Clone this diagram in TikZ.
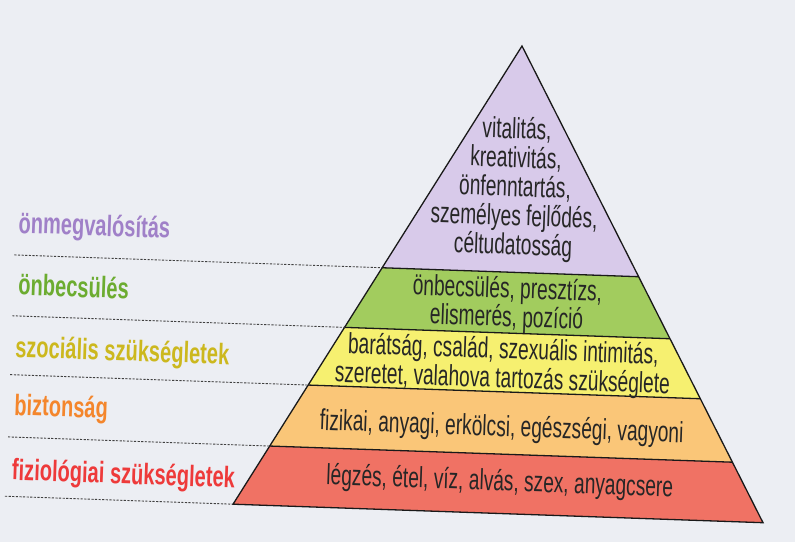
\documentclass[tikz,border=0pt]{standalone}
\usepackage{fontspec}
\setmainfont{Liberation Sans}[FakeStretch=0.66]
\newfontfamily\labfont{Liberation Sans}[FakeStretch=0.68]
\definecolor{bg}{RGB}{236,238,243}
\definecolor{fpurple}{RGB}{216,202,234}
\definecolor{fgreen}{RGB}{162,204,94}
\definecolor{fyellow}{RGB}{246,240,112}
\definecolor{forange}{RGB}{250,198,120}
\definecolor{fred}{RGB}{240,114,100}
\definecolor{lpurple}{RGB}{160,128,200}
\definecolor{lgreen}{RGB}{108,172,48}
\definecolor{lyellow}{RGB}{204,184,30}
\definecolor{lorange}{RGB}{244,134,44}
\definecolor{lred}{RGB}{238,58,58}
\begin{document}
\begin{tikzpicture}[x=1pt,y=1pt,
  lab/.style={font=\labfont\fontsize{29.5}{29.5}\selectfont\bfseries, inner sep=0pt, anchor=base west},
  inner/.style={font=\fontsize{29}{#1}\selectfont, align=center, inner sep=0pt, text=black!85},
  inner/.default=29,
  dashline/.style={draw=black!75, line width=0.9pt, dash pattern=on 2.2pt off 1.4pt},
  edge/.style={draw=black!90, line width=1.3pt, line join=miter}]
\useasboundingbox[fill=bg] (0,0) rectangle (795,542);
\begin{scope}[shift={(522,496)}, rotate=-2, transform shape]
  \coordinate (apex) at (0,0);
  \coordinate (l1) at (-132.0,-226.5); \coordinate (r1) at (124.6,-226.5);
  \coordinate (l2) at (-167.5,-287.4); \coordinate (r2) at (158.1,-287.4);
  \coordinate (l3) at (-201.9,-346.3); \coordinate (r3) at (190.6,-346.3);
  \coordinate (l4) at (-238.2,-408.6); \coordinate (r4) at (224.8,-408.6);
  \coordinate (l5) at (-272.8,-468.0); \coordinate (r5) at (257.5,-468.0);
  \fill[fpurple] (apex) -- (l1) -- (r1) -- cycle;
  \fill[fgreen] (l1) -- (l2) -- (r2) -- (r1) -- cycle;
  \fill[fyellow] (l2) -- (l3) -- (r3) -- (r2) -- cycle;
  \fill[forange] (l3) -- (l4) -- (r4) -- (r3) -- cycle;
  \fill[fred] (l4) -- (l5) -- (r5) -- (r4) -- cycle;
  \draw[edge] (l1) -- (r1);
  \draw[edge] (l2) -- (r2);
  \draw[edge] (l3) -- (r3);
  \draw[edge] (l4) -- (r4);
  \draw[edge] (apex) -- (l5) -- (r5) -- cycle;
  % dashed leaders
  \coordinate (d1) at (-500,-226.5);
  \coordinate (d2) at (-500,-287.4);
  \coordinate (d3) at (-500,-346.3);
  \coordinate (d4) at (-500,-408.6);
  \coordinate (d5) at (-501,-468.0);
  \draw[dashline] (d1) -- (l1);
  \draw[dashline] (d2) -- (l2);
  \draw[dashline] (d3) -- (l3);
  \draw[dashline] (d4) -- (l4);
  \draw[dashline] (d5) -- (l5);
  % level labels
  \node[lab, text=lpurple] (n1) at (-497,-204.5) {önmegvalósítás};
  \node[lab, text=lgreen] (n2) at (-495,-266.4) {önbecsülés};
  \node[lab, text=lyellow] (n3) at (-496,-328.5) {szociális szükségletek};
  \node[lab, text=lorange] (n4) at (-495,-386.5) {biztonság};
  \node[lab, text=lred] (n5) at (-495,-451.5) {fiziológiai szükségletek};
  % contents
  \node[inner=29] (c1) at (-2,-143) {vitalitás,\\kreativitás,\\önfenntartás,\\személyes fejlődés,\\céltudatosság};
  \node[inner=25] (c2) at (-6,-259) {önbecsülés, presztízs,\\elismerés, pozíció};
  \node[inner=29] (c3) at (-8,-320) {barátság, család, szexuális intimitás,\\szeretet, valahova tartozás szükséglete};
  \node[inner] (c4) at (-7,-383) {fizikai, anyagi, erkölcsi, egészségi, vagyoni};
  \node[inner] (c5) at (-7,-437.5) {légzés, étel, víz, alvás, szex, anyagcsere};
\end{scope}
\end{tikzpicture}
\end{document}
